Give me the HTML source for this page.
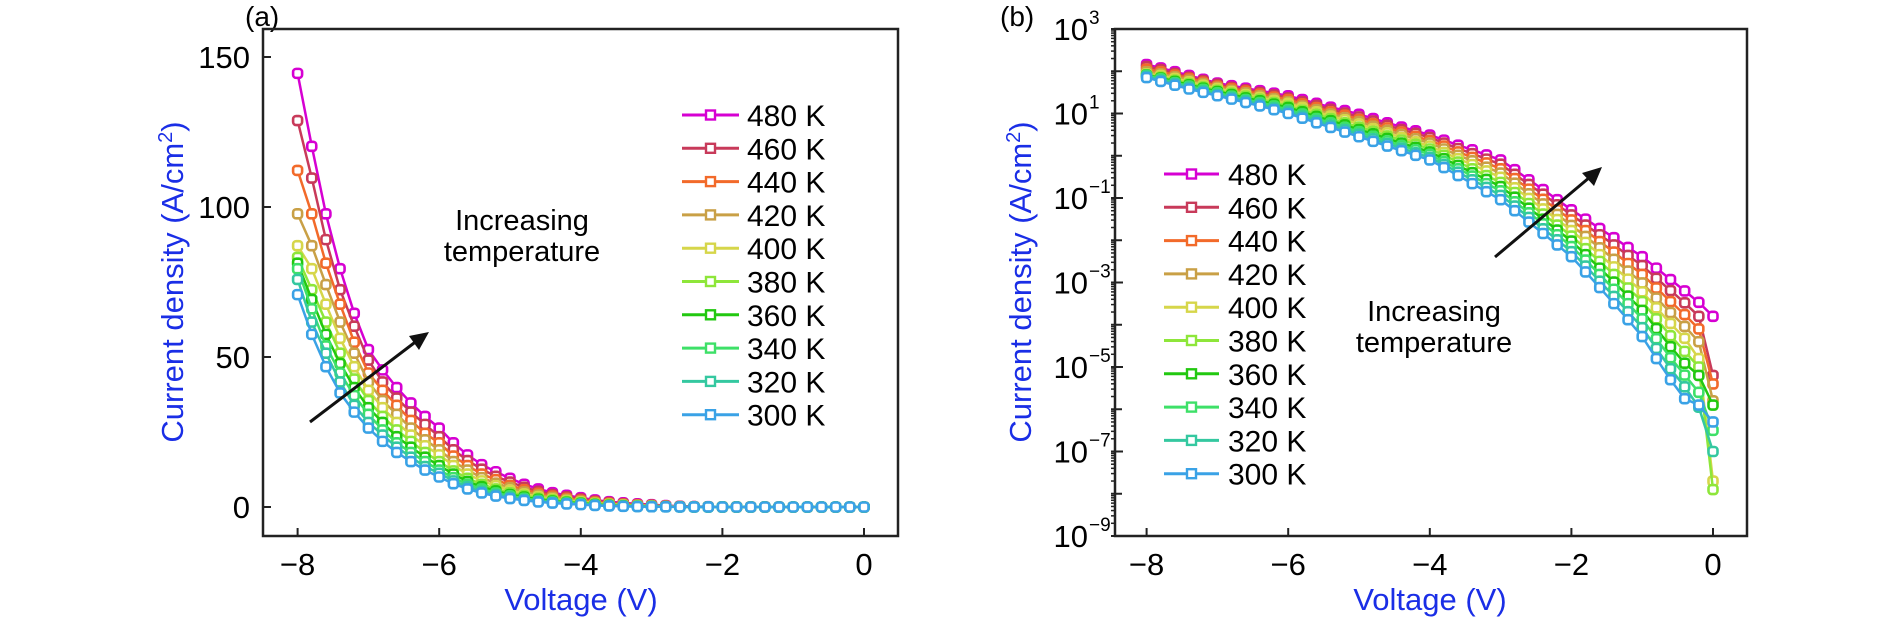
<!DOCTYPE html>
<html><head><meta charset="utf-8">
<style>
body{margin:0;background:#fff;}
svg{display:block;font-family:"Liberation Sans",sans-serif;}
</style></head>
<body>
<svg id="fig" width="1890" height="620" viewBox="0 0 1890 620" xmlns="http://www.w3.org/2000/svg">
<g id="pa"></g>
<g id="pb"></g>
</svg>
<script>
const voltages = [-8,-7.8,-7.6,-7.4,-7.2,-7,-6.8,-6.6,-6.4,-6.2,-6,-5.8,-5.6,-5.4,-5.2,-5,-4.8,-4.6,-4.4,-4.2,-4,-3.8,-3.6,-3.4,-3.2,-3,-2.8,-2.6,-2.4,-2.2,-2,-1.8,-1.6,-1.4,-1.2,-1,-0.8,-0.6,-0.4,-0.2,0];
const temps = ["480 K","460 K","440 K","420 K","400 K","380 K","360 K","340 K","320 K","300 K"];
const log480 = [2.16,2.08,1.99,1.90,1.81,1.72,1.66,1.60,1.54,1.48,1.42,1.33,1.24,1.15,1.07,0.98,0.88,0.78,0.68,0.59,0.49,0.37,0.25,0.14,0.02,-0.10,-0.33,-0.57,-0.80,-1.04,-1.28,-1.50,-1.72,-1.94,-2.17,-2.39,-2.66,-2.93,-3.20,-3.47,-3.8];
const log460 = [2.11,2.04,1.95,1.86,1.78,1.69,1.62,1.56,1.50,1.44,1.37,1.28,1.19,1.10,1.01,0.92,0.82,0.72,0.62,0.53,0.43,0.30,0.17,0.05,-0.08,-0.20,-0.44,-0.68,-0.91,-1.16,-1.40,-1.64,-1.87,-2.11,-2.36,-2.60,-2.90,-3.19,-3.48,-3.8,-5.2];
const log440 = [2.05,1.99,1.91,1.83,1.74,1.65,1.59,1.53,1.46,1.39,1.33,1.23,1.14,1.04,0.96,0.86,0.76,0.66,0.56,0.46,0.36,0.23,0.09,-0.04,-0.17,-0.31,-0.54,-0.79,-1.03,-1.28,-1.52,-1.77,-2.03,-2.28,-2.55,-2.81,-3.13,-3.45,-3.76,-4.1,-5.4];
const log420 = [1.99,1.94,1.87,1.79,1.71,1.62,1.55,1.49,1.42,1.35,1.28,1.18,1.09,0.99,0.90,0.81,0.70,0.60,0.50,0.40,0.30,0.16,0.01,-0.12,-0.27,-0.41,-0.65,-0.90,-1.14,-1.39,-1.65,-1.91,-2.18,-2.45,-2.73,-3.01,-3.37,-3.71,-4.04,-4.4,-5.8];
const log400 = [1.94,1.90,1.83,1.75,1.67,1.59,1.52,1.45,1.38,1.31,1.24,1.14,1.04,0.94,0.85,0.75,0.64,0.54,0.43,0.33,0.23,0.08,-0.07,-0.21,-0.36,-0.51,-0.76,-1.01,-1.26,-1.51,-1.77,-2.05,-2.34,-2.63,-2.92,-3.22,-3.60,-3.97,-4.32,-4.8,-7.7];
const log380 = [1.92,1.86,1.79,1.71,1.63,1.55,1.48,1.41,1.34,1.26,1.18,1.08,0.98,0.88,0.78,0.68,0.58,0.47,0.37,0.27,0.16,0.01,-0.15,-0.31,-0.47,-0.63,-0.87,-1.13,-1.38,-1.64,-1.90,-2.20,-2.50,-2.81,-3.13,-3.45,-3.86,-4.26,-4.63,-5.0,-7.9];
const log360 = [1.91,1.84,1.76,1.68,1.60,1.52,1.45,1.37,1.30,1.22,1.14,1.04,0.93,0.83,0.73,0.62,0.52,0.41,0.30,0.20,0.09,-0.07,-0.23,-0.40,-0.56,-0.73,-0.98,-1.24,-1.50,-1.76,-2.02,-2.34,-2.66,-2.99,-3.32,-3.66,-4.09,-4.52,-4.91,-5.2,-5.9];
const log340 = [1.90,1.82,1.73,1.65,1.57,1.49,1.41,1.33,1.26,1.18,1.09,0.99,0.88,0.78,0.67,0.57,0.46,0.35,0.24,0.14,0.03,-0.14,-0.31,-0.48,-0.66,-0.83,-1.09,-1.35,-1.61,-1.87,-2.15,-2.47,-2.81,-3.16,-3.50,-3.86,-4.33,-4.78,-5.19,-5.6,-6.5];
const log320 = [1.88,1.79,1.71,1.62,1.53,1.45,1.38,1.30,1.22,1.13,1.05,0.94,0.83,0.72,0.62,0.51,0.40,0.29,0.18,0.07,-0.04,-0.21,-0.39,-0.57,-0.75,-0.94,-1.19,-1.46,-1.73,-1.99,-2.27,-2.61,-2.97,-3.33,-3.69,-4.07,-4.56,-5.04,-5.47,-5.95,-7.0];
const log300 = [1.85,1.76,1.67,1.58,1.50,1.42,1.34,1.26,1.18,1.09,1.00,0.89,0.78,0.67,0.56,0.45,0.34,0.23,0.12,0.01,-0.10,-0.28,-0.47,-0.66,-0.85,-1.04,-1.30,-1.57,-1.84,-2.11,-2.39,-2.75,-3.12,-3.50,-3.88,-4.28,-4.80,-5.30,-5.75,-5.9,-6.3];
const seriesLog = [log480,log460,log440,log420,log400,log380,log360,log340,log320,log300];
const colors = ["#d600d2","#c83a5a","#f26a2a","#c9a046","#d6d64a","#8ee63a","#22c810","#3ee068","#34c8a0","#3aa2e6"];
const xTicks = [-8,-6,-4,-2,0];
const xTickLabels = ["\u22128","\u22126","\u22124","\u22122","0"];
const yTicksA = [0,50,100,150];
const yTicksB = [-9,-7,-5,-3,-1,1,3];

const NS="http://www.w3.org/2000/svg";
function mk(parent,tag,attrs,text){const e=document.createElementNS(NS,tag);for(const k in attrs)e.setAttribute(k,attrs[k]);if(text!==undefined)e.textContent=text;parent.appendChild(e);return e;}
const FS=31;

/* ---------- Panel A ---------- */
const A={L:263,R:898,T:29,B:536};
const xA=v=>864+(v)*70.8;
const yA=j=>507-j*3.0;
const pa=document.getElementById('pa');
let t;
t=mk(pa,'text',{x:245,y:26,'font-size':28,'text-anchor':'start'},'(a)');

const defs=mk(document.getElementById('fig'),'defs',{});
const ca=mk(defs,'clipPath',{id:'clipA'});mk(ca,'rect',{x:A.L,y:A.T,width:A.R-A.L,height:A.B-A.T});
const cb=mk(defs,'clipPath',{id:'clipB'});mk(cb,'rect',{x:1115,y:29,width:1747-1115,height:536-29});
const gA=mk(pa,'g',{'clip-path':'url(#clipA)'});
for(let s=0;s<seriesLog.length;s++){
  const g=mk(gA,'g',{});
  
  
  const pts=voltages.map((v,i)=>xA(v).toFixed(1)+','+yA(Math.pow(10,seriesLog[s][i])).toFixed(1)).join(' ');
  mk(g,'polyline',{points:pts,fill:'none',stroke:colors[s],'stroke-width':2.5});
  voltages.forEach((v,i)=>{
    const m=mk(g,'rect',{x:xA(v)-4.5,y:yA(Math.pow(10,seriesLog[s][i]))-4.5,width:9,height:9,rx:3,fill:'#fff',stroke:colors[s],'stroke-width':2.6});
    
    
  });
}
mk(pa,'rect',{x:A.L,y:A.T,width:A.R-A.L,height:A.B-A.T,fill:'none',stroke:'#222','stroke-width':2.5});
xTicks.forEach((v,i)=>{
  mk(pa,'line',{x1:xA(v),x2:xA(v),y1:A.B,y2:A.B-8,stroke:'#222','stroke-width':2});
  const tl=mk(pa,'text',{x:xA(v),y:575,'font-size':FS,'text-anchor':'middle'},xTickLabels[i]);
  
});
yTicksA.forEach(v=>{
  mk(pa,'line',{x1:A.L,x2:A.L+8,y1:yA(v),y2:yA(v),stroke:'#222','stroke-width':2});
  const tl=mk(pa,'text',{x:250,y:yA(v)+11,'font-size':FS,'text-anchor':'end'},String(v));
  
});
t=mk(pa,'text',{x:581,y:610,'font-size':FS,'text-anchor':'middle',fill:'#1a2ee6'},'Voltage (V)');

t=mk(pa,'text',{x:0,y:0,'font-size':FS,'text-anchor':'middle',fill:'#1a2ee6',transform:'translate(183,282) rotate(-90)'});

t.innerHTML='Current density (A/cm<tspan dy="-11" font-size="20">2</tspan><tspan dy="11">)</tspan>';
t=mk(pa,'text',{x:522,y:230,'font-size':29,'text-anchor':'middle'},'Increasing');

t=mk(pa,'text',{x:522,y:261,'font-size':29,'text-anchor':'middle'},'temperature');

const arrA=mk(pa,'g',{});

mk(arrA,'line',{x1:310,y1:422,x2:418,y2:340,stroke:'#111','stroke-width':3});
mk(arrA,'polygon',{points:'429,332 409,336 419,350',fill:'#111'});
temps.forEach((name,i)=>{
  const y=115+i*33.3;
  const g=mk(pa,'g',{});
  
  mk(g,'line',{x1:682,x2:739,y1:y,y2:y,stroke:colors[i],'stroke-width':3});
  mk(g,'rect',{x:706,y:y-4.5,width:9,height:9,fill:'#fff',stroke:colors[i],'stroke-width':2.4});
  mk(g,'text',{x:747,y:y+11,'font-size':30},name);
});

/* ---------- Panel B ---------- */
const B={L:1115,R:1747,T:29,B:536};
const xB=v=>1713+v*70.8;
const yB=l=>29+(3-l)*42.25;
const pb=document.getElementById('pb');
t=mk(pb,'text',{x:1000,y:26,'font-size':28,'text-anchor':'start'},'(b)');

const gB=mk(pb,'g',{'clip-path':'url(#clipB)'});
for(let s=0;s<seriesLog.length;s++){
  const g=mk(gB,'g',{});
  
  
  const pts=voltages.map((v,i)=>xB(v).toFixed(1)+','+yB(seriesLog[s][i]).toFixed(1)).join(' ');
  mk(g,'polyline',{points:pts,fill:'none',stroke:colors[s],'stroke-width':2.5});
  voltages.forEach((v,i)=>{
    const m=mk(g,'rect',{x:xB(v)-4.5,y:yB(seriesLog[s][i])-4.5,width:9,height:9,rx:3,fill:'#fff',stroke:colors[s],'stroke-width':2.6});
    
    
  });
}
mk(pb,'rect',{x:B.L,y:B.T,width:B.R-B.L,height:B.B-B.T,fill:'none',stroke:'#222','stroke-width':2.5});
xTicks.forEach((v,i)=>{
  mk(pb,'line',{x1:xB(v),x2:xB(v),y1:B.B,y2:B.B-8,stroke:'#222','stroke-width':2});
  const tl=mk(pb,'text',{x:xB(v),y:575,'font-size':FS,'text-anchor':'middle'},xTickLabels[i]);
  
});
for(let d=-9;d<3;d++){
  for(let k=2;k<10;k++){
    const y=yB(d+Math.log10(k));
    mk(pb,'line',{x1:B.L-4,x2:B.L,y1:y,y2:y,stroke:'#222','stroke-width':1.5});
  }
  if(d%2===0){const y=yB(d);mk(pb,'line',{x1:B.L-4,x2:B.L+7,y1:y,y2:y,stroke:'#222','stroke-width':2});}
}
yTicksB.forEach(v=>{
  const y=yB(v);
  mk(pb,'line',{x1:B.L-4,x2:B.L+8,y1:y,y2:y,stroke:'#222','stroke-width':2});
  const tl=mk(pb,'text',{x:1088,y:y+11,'font-size':FS,'text-anchor':'end'},'10');
  
  mk(pb,'text',{x:1089,y:y-5,'font-size':19,'text-anchor':'start'},v<0?'\u2212'+(-v):String(v));
});
t=mk(pb,'text',{x:1430,y:610,'font-size':FS,'text-anchor':'middle',fill:'#1a2ee6'},'Voltage (V)');

t=mk(pb,'text',{x:0,y:0,'font-size':FS,'text-anchor':'middle',fill:'#1a2ee6',transform:'translate(1031,282) rotate(-90)'});

t.innerHTML='Current density (A/cm<tspan dy="-11" font-size="20">2</tspan><tspan dy="11">)</tspan>';
t=mk(pb,'text',{x:1434,y:321,'font-size':29,'text-anchor':'middle'},'Increasing');

t=mk(pb,'text',{x:1434,y:352,'font-size':29,'text-anchor':'middle'},'temperature');

const arrB=mk(pb,'g',{});

mk(arrB,'line',{x1:1495,y1:257,x2:1590,y2:177,stroke:'#111','stroke-width':3});
mk(arrB,'polygon',{points:'1602,167 1582,173 1594,186',fill:'#111'});
temps.forEach((name,i)=>{
  const y=174+i*33.3;
  const g=mk(pb,'g',{});
  
  mk(g,'line',{x1:1164,x2:1219,y1:y,y2:y,stroke:colors[i],'stroke-width':3});
  mk(g,'rect',{x:1187,y:y-4.5,width:9,height:9,fill:'#fff',stroke:colors[i],'stroke-width':2.4});
  mk(g,'text',{x:1228,y:y+11,'font-size':30},name);
});
</script>
</body></html>
